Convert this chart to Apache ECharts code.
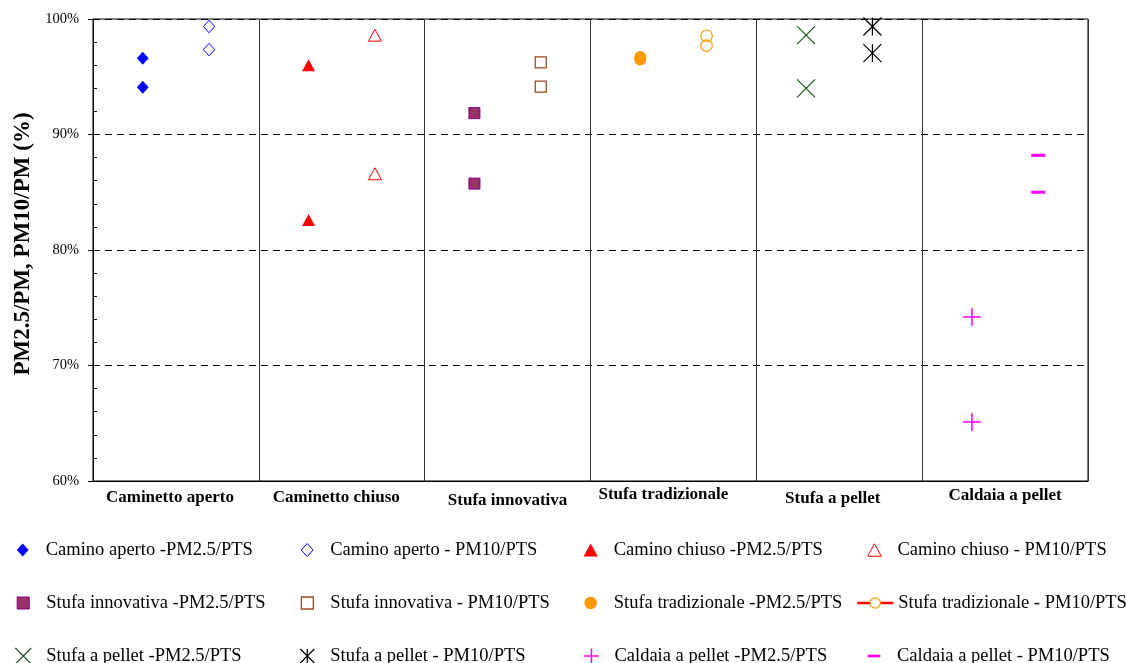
<!DOCTYPE html>
<html>
<head>
<meta charset="utf-8">
<script src="https://cdn.jsdelivr.net/npm/echarts@6/dist/echarts.min.js"></script>
<style>
  html, body { margin: 0; padding: 0; background: #fff; }
  #chart { width: 1126px; height: 663px; }
</style>
</head>
<body>
<div id="chart"></div>
<script>
// Appliance types along the x axis
const categories = ['Caminetto aperto', 'Caminetto chiuso', 'Stufa innovativa', 'Stufa tradizionale', 'Stufa a pellet', 'Caldaia a pellet'];

// Ratios (%) measured for each appliance: two tests per appliance
const caminoApertoPM25 = [96.6, 94.1];
const caminoApertoPM10 = [99.35, 97.35];
const caminoChiusoPM25 = [96.0, 82.6];
const caminoChiusoPM10 = [98.6, 86.6];
const stufaInnovativaPM25 = [91.85, 85.75];
const stufaInnovativaPM10 = [96.25, 94.15];
const stufaTradizionalePM25 = [96.7, 96.5];
const stufaTradizionalePM10 = [98.55, 97.7];
const stufaPelletPM25 = [98.6, 94.0];
const stufaPelletPM10 = [99.35, 97.05];
const caldaiaPelletPM25 = [74.2, 65.1];
const caldaiaPelletPM10 = [88.2, 85.0];

const legendNames = [
  'Camino aperto -PM2.5/PTS', 'Camino aperto - PM10/PTS', 'Camino chiuso -PM2.5/PTS', 'Camino chiuso - PM10/PTS',
  'Stufa innovativa -PM2.5/PTS', 'Stufa innovativa - PM10/PTS', 'Stufa tradizionale -PM2.5/PTS', 'Stufa tradizionale - PM10/PTS',
  'Stufa a pellet -PM2.5/PTS', 'Stufa a pellet - PM10/PTS', 'Caldaia a pellet -PM2.5/PTS', 'Caldaia a pellet - PM10/PTS'
];

const yMin = 60, yMax = 100;
const yTitle = 'PM2.5/PM, PM10/PM (%)';

// ---- styling ----
const SERIF = 'Liberation Serif';
const slotOffset = [0.3, 0.7];           // PM2.5 column, PM10 column inside each band
const CLEAR = 'rgba(0,0,0,0)';

const DIAMOND = 'path://M5,0L10,5.5L5,11L0,5.5Z';
const TRIANGLE = 'path://M6,0L12,11L0,11Z';
const SQUARE = 'path://M0,0L10,0L10,10L0,10Z';
const CROSS_X = 'path://M0,0L10,10M10,0L0,10';
const STAR = 'path://M0,0L10,10M10,0L0,10M5,0L5,10';
const PLUS = 'path://M5,0L5,10M0,5L10,5';
const DASH = 'path://M0,0L14,0L14,3L0,3Z';

// per-series marker style:
// [values, category, slot, symbol, size, fill, stroke, strokeWidth, legendIconHeight, legendIconWidth]
const seriesDefs = [
  [caminoApertoPM25, 0, 0, DIAMOND, 13, '#0000ff', null, 0, 13, 11.8],
  [caminoApertoPM10, 0, 1, DIAMOND, 12.5, CLEAR, '#0000ff', 1, 13, 11.8],
  [caminoChiusoPM25, 1, 0, TRIANGLE, 13, '#ff0000', null, 0, 13, 14.2],
  [caminoChiusoPM10, 1, 1, TRIANGLE, 13, CLEAR, '#ff0000', 1, 12.5, 13.6],
  [stufaInnovativaPM25, 2, 0, SQUARE, 11, '#993366', '#800080', 1, 12, 12],
  [stufaInnovativaPM10, 2, 1, SQUARE, 11, CLEAR, '#a04a20', 1.3, 12, 12],
  [stufaTradizionalePM25, 3, 0, 'circle', 12, '#ff9900', null, 0, 12.5, 12.5],
  [stufaTradizionalePM10, 3, 1, 'circle', 11.5, CLEAR, '#ff9900', 1.2, 13, 36],
  [stufaPelletPM25, 4, 0, CROSS_X, 18, CLEAR, '#1e5a1e', 1.2, 16, 16],
  [stufaPelletPM10, 4, 1, STAR, 18, CLEAR, '#000000', 1.2, 14, 14],
  [caldaiaPelletPM25, 5, 0, PLUS, 18, CLEAR, '#ff00ff', 1.5, 15, 15],
  [caldaiaPelletPM10, 5, 1, DASH, 14, '#ff00ff', null, 0, 2.7, 12.6]
];

// legend icon centres per column and row tops
const legendIconCenter = [22.7, 306.7, 590.7, 874];
const legendTop = [540, 593, 646];

// per-category label nudges: [top padding, shift left]
const labelNudge = [[5, 6], [5, 5.5], [11, 0], [0, 10], [8, 6.5], [1, 0]];

const series = [];
const legends = [];
seriesDefs.forEach((d, k) => {
  const [values, cat, slot, symbol, size, fill, stroke, sw, lsize, lwidth] = d;
  const isLine = k === 7;
  const s = {
    name: legendNames[k],
    type: isLine ? 'line' : 'scatter',
    xAxisIndex: 0,
    yAxisIndex: 0,
    symbol: symbol,
    symbolSize: size,
    symbolKeepAspect: true,
    data: values.map(v => [cat + slotOffset[slot], v]),
    itemStyle: { color: fill, borderColor: stroke || fill, borderWidth: sw, opacity: 1 },
    emphasis: { disabled: true },
    z: 5
  };
  if (isLine) {
    s.showSymbol = true;
    s.lineStyle = { color: '#ff0000', width: 0, opacity: 0 };
  }
  series.push(s);

  const item = { name: legendNames[k], itemStyle: { borderWidth: sw } };
  if (isLine) {
    item.itemStyle = { color: '#ffffff', borderColor: '#ff9900', borderWidth: 1.2, opacity: 1 };
    item.lineStyle = { color: '#ff0000', width: 2.5, opacity: 1, type: 'solid' };
  }
  legends.push({
    show: true,
    orient: 'horizontal',
    left: legendIconCenter[k % 4] - lwidth / 2,
    top: legendTop[Math.floor(k / 4)],
    padding: 0,
    itemGap: 0,
    itemWidth: 36,
    itemHeight: lsize,
    symbolKeepAspect: true,
    selectedMode: false,
    data: [item],
    textStyle: { fontFamily: SERIF, fontSize: 18.5, color: '#000', lineHeight: 20 }
  });
});

const rich = {};
labelNudge.forEach((n, i) => {
  rich['c' + i] = {
    fontFamily: SERIF, fontWeight: 'bold', fontSize: 17, color: '#000', lineHeight: 18,
    padding: [n[0], n[1] * 2, 0, 0]
  };
});

const option = {
  animation: false,
  backgroundColor: '#ffffff',
  grid: {
    left: 93, right: 38, top: 19, bottom: 182,
    show: true, borderColor: '#000', borderWidth: 1, backgroundColor: 'transparent',
    containLabel: false, outerBoundsMode: 'none'
  },
  xAxis: [
    {
      type: 'value', min: 0, max: categories.length, interval: 1, position: 'bottom',
      axisLine: { show: true, lineStyle: { color: '#000', width: 1 } },
      axisTick: { show: false },
      axisLabel: { show: false },
      splitLine: { show: true, lineStyle: { color: '#333', width: 1, type: 'solid' } }
    },
    {
      type: 'category', position: 'bottom', data: categories, boundaryGap: true,
      axisLine: { show: false }, axisTick: { show: false }, splitLine: { show: false },
      axisLabel: {
        interval: 0, margin: 5,
        formatter: (v, i) => '{c' + i + '|' + v + '}',
        rich: rich
      }
    }
  ],
  yAxis: [
    {
      type: 'value', min: yMin, max: yMax, interval: 10, position: 'left',
      axisLine: { show: true, lineStyle: { color: '#000', width: 1 } },
      axisTick: { show: true, inside: false, length: 5, lineStyle: { color: '#000', width: 1 } },
      axisLabel: { formatter: v => v + '%', margin: 14, color: '#000', fontFamily: SERIF, fontSize: 14.5 },
      splitLine: { show: true, lineStyle: { color: '#000', width: 1, type: [7, 5] } },
      name: yTitle, nameLocation: 'middle', nameGap: 56, nameRotate: 90,
      nameTextStyle: { fontFamily: SERIF, fontWeight: 'bold', fontSize: 23, color: '#000', padding: [0, 0, 0, 12] }
    },
    {
      type: 'value', min: yMin, max: yMax, interval: 2, position: 'left',
      axisLine: { show: false },
      axisTick: { show: true, inside: true, length: 4, lineStyle: { color: '#000', width: 1 } },
      axisLabel: { show: false },
      splitLine: { show: false }
    }
  ],
  tooltip: { show: false },
  legend: legends,
  series: series
};

const chart = echarts.init(document.getElementById('chart'));
chart.setOption(option);
</script>
</body>
</html>
